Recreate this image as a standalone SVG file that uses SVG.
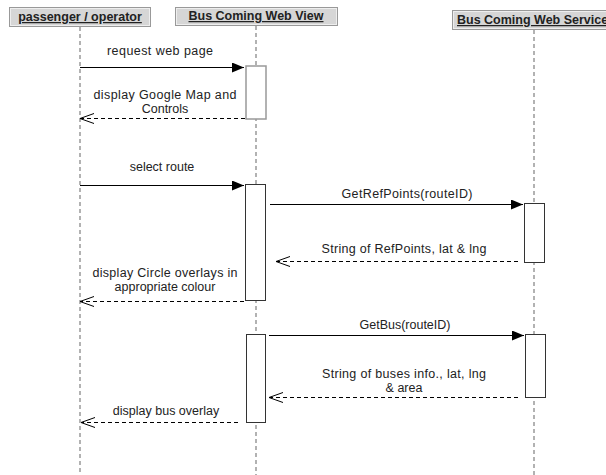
<svg xmlns="http://www.w3.org/2000/svg" width="606" height="475" viewBox="0 0 606 475">
<style>
.hdr{fill:#d6d6d6;stroke:#999;stroke-width:1}
.hdrin{fill:none;stroke:#eeeeee;stroke-width:1}
.ht{font-family:"Liberation Sans",Arial,sans-serif;font-size:12.5px;font-weight:bold;fill:#222;text-decoration:underline}
.life{stroke:#999;stroke-width:1.5;stroke-dasharray:4 3;fill:none}
.act{fill:#fff;stroke:#333;stroke-width:1}
.act1{fill:#fff;stroke:#999;stroke-width:1.5}
.msg{stroke:#000;stroke-width:1;fill:none}
.ret{stroke:#000;stroke-width:1;stroke-dasharray:4 3;fill:none}
.t{font-family:"Liberation Sans",Arial,sans-serif;font-size:12.5px;fill:#222;text-anchor:middle}
</style>
<defs>
<marker id="fill" markerUnits="userSpaceOnUse" markerWidth="12" markerHeight="10" refX="12" refY="5" orient="auto"><path d="M0,0 L12,5 L0,10 z" fill="#000"/></marker>
<marker id="open" markerUnits="userSpaceOnUse" markerWidth="16" markerHeight="12" refX="15" refY="6" orient="auto"><path d="M1,1 L15,6 L1,11" fill="none" stroke="#000" stroke-width="1"/></marker>
</defs>
<rect width="606" height="475" fill="#fff"/>
<g id="lifelines">
<line class="life" x1="80" y1="27" x2="80" y2="475"/>
<line class="life" x1="256" y1="26" x2="256" y2="475"/>
<line class="life" x1="534" y1="30" x2="534" y2="475"/>
</g>
<g id="passenger">
<rect class="hdr" x="9.5" y="7.5" width="141" height="19"/>
<rect class="hdrin" x="10.5" y="8.5" width="139" height="17"/>
<text class="ht" x="80" y="21" text-anchor="middle">passenger / operator</text>
</g>
<g id="webview">
<rect class="hdr" x="175.5" y="7.5" width="162" height="18"/>
<rect class="hdrin" x="176.5" y="8.5" width="160" height="16"/>
<text class="ht" x="256" y="20" text-anchor="middle">Bus Coming Web View</text>
</g>
<g id="webservice">
<rect class="hdr" x="452.5" y="10.5" width="170" height="19"/>
<rect class="hdrin" x="453.5" y="11.5" width="168" height="17"/>
<text class="ht" x="457" y="24">Bus Coming Web Service</text>
</g>
<g id="activations">
<rect class="act1" x="246" y="66" width="20" height="53"/>
<rect class="act" x="245.5" y="184.5" width="20" height="116"/>
<rect class="act" x="524.5" y="203.5" width="20" height="59"/>
<rect class="act" x="246.5" y="334.5" width="19" height="88"/>
<rect class="act" x="525.5" y="334.5" width="20" height="63"/>
</g>
<g id="connectors">
<line class="msg" x1="80" y1="67.5" x2="244" y2="67.5" marker-end="url(#fill)"/>
<line class="ret" x1="245" y1="118.5" x2="80" y2="118.5" marker-end="url(#open)"/>
<line class="msg" x1="80" y1="185.5" x2="244" y2="185.5" marker-end="url(#fill)"/>
<line class="msg" x1="270" y1="204.5" x2="523" y2="204.5" marker-end="url(#fill)"/>
<line class="ret" x1="518" y1="261.5" x2="276" y2="261.5" marker-end="url(#open)"/>
<line class="ret" x1="244" y1="301.5" x2="80" y2="301.5" marker-end="url(#open)"/>
<line class="msg" x1="269" y1="335.5" x2="524" y2="335.5" marker-end="url(#fill)"/>
<line class="ret" x1="518" y1="397.5" x2="269" y2="397.5" marker-end="url(#open)"/>
<line class="ret" x1="238" y1="422.5" x2="81" y2="422.5" marker-end="url(#open)"/>
</g>
<g id="labels">
<text class="t" x="160" y="55" textLength="106" lengthAdjust="spacing">request web page</text>
<text class="t" x="165" y="99" textLength="143" lengthAdjust="spacing">display Google Map and</text>
<text class="t" x="165" y="113">Controls</text>
<text class="t" x="162" y="171">select route</text>
<text class="t" x="407" y="198" textLength="131" lengthAdjust="spacing">GetRefPoints(routeID)</text>
<text class="t" x="404" y="253" textLength="165" lengthAdjust="spacing">String of RefPoints, lat &amp; lng</text>
<text class="t" x="165" y="277" textLength="145" lengthAdjust="spacing">display Circle overlays in</text>
<text class="t" x="165" y="291">appropriate colour</text>
<text class="t" x="405" y="329">GetBus(routeID)</text>
<text class="t" x="404" y="378" textLength="164" lengthAdjust="spacing">String of buses info., lat, lng</text>
<text class="t" x="404" y="392">&amp; area</text>
<text class="t" x="166" y="415">display bus overlay</text>
</g>
</svg>
